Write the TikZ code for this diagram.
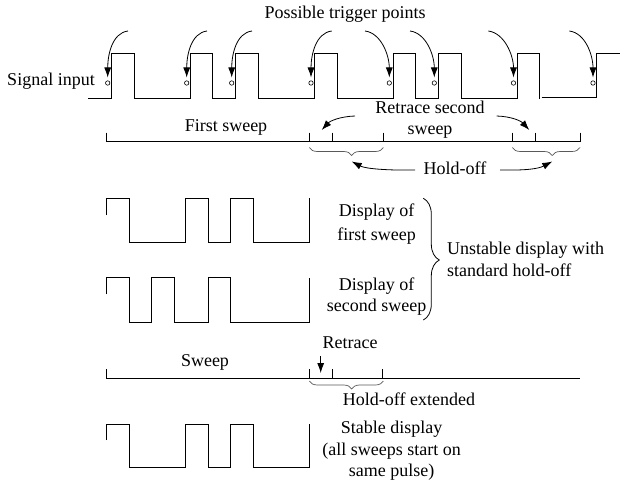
\documentclass[tikz,border=0pt]{standalone}
\usepackage{fontspec}
\setmainfont{Liberation Serif}
\usetikzlibrary{arrows.meta,decorations.pathreplacing}
\begin{document}
\begin{tikzpicture}[x=1pt,y=-1pt,
  lbl/.style={anchor=base,inner sep=0pt,font=\fontsize{18}{22}\selectfont},
  wave/.style={line width=0.9pt,line join=miter},
  axis/.style={line width=0.8pt},
  trig/.style={circle,draw,fill=white,inner sep=0pt,minimum size=4.4pt,line width=0.6pt},
  tarrow/.style={line width=0.8pt,-{Latex[length=10pt,width=7pt]},shorten >=3pt},
  carrow/.style={line width=0.8pt,-{Latex[length=10pt,width=7pt]}},
  hbrace/.style={draw=black!65,line width=0.7pt,decorate},
]
\useasboundingbox (0,0) rectangle (632,492);

% ---------- texts ----------
\node[lbl] (title) at (345,18.3) {Possible trigger points};
\node[lbl] (sig) at (51,86) {Signal input};
\node[lbl] (first) at (226,131.7) {First sweep};
\node[lbl] (ret1) at (430,113.3) {Retrace second};
\node[lbl] (ret2) at (430,135) {sweep};
\node[lbl] (hold) at (455,175) {Hold-off};
\node[lbl] (d1a) at (376.7,216) {Display of};
\node[lbl] (d1b) at (376.7,240) {first sweep};
\node[lbl] (d2a) at (376.7,290) {Display of};
\node[lbl] (d2b) at (376.7,311) {second sweep};
\node[lbl,anchor=base west] (un1) at (447,254) {Unstable display with};
\node[lbl,anchor=base west] (un2) at (447,276) {standard hold-off};
\node[lbl] (sweep) at (205,366.7) {Sweep};
\node[lbl] (retr) at (350,348.3) {Retrace};
\node[lbl] (holdx) at (409,405) {Hold-off extended};
\node[lbl] (st1) at (391.7,433.3) {Stable display};
\node[lbl] (st2) at (391.7,455) {(all sweeps start on};
\node[lbl] (st3) at (391.7,476.7) {same pulse)};

% ---------- signal input ----------
\draw[wave] (88,98.3) -- (111.7,98.3) -- (111.7,53.3) -- (134.3,53.3) -- (134.3,98.3)
  -- (190.7,98.3) -- (190.7,53.3) -- (212.3,53.3) -- (212.3,98.3)
  -- (235.7,98.3) -- (235.7,53.3) -- (258.3,53.3) -- (258.3,98.3)
  -- (314.3,98.3) -- (314.3,53.3) -- (337.3,53.3) -- (337.3,98.3)
  -- (393.3,98.3) -- (393.3,53.3) -- (415.7,53.3) -- (415.7,98.3)
  -- (438.3,98.3) -- (438.3,53.3) -- (461.7,53.3) -- (461.7,98.3)
  -- (517.3,98.3) -- (517.3,53.3) -- (539.3,53.3) -- (539.3,99.3);
\draw[wave] (541.7,97.5) -- (596.7,97.5) -- (596.7,53.3) -- (620,53.3);

% trigger points
\node[trig] (t1) at (107.7,83) {};
\node[trig] (t2) at (186.7,83) {};
\node[trig] (t3) at (231.7,83) {};
\node[trig] (t4) at (311,83) {};
\node[trig] (t5) at (389.3,83) {};
\node[trig] (t6) at (434.3,83) {};
\node[trig] (t7) at (513.5,83) {};
\node[trig] (t8) at (593,83) {};
\coordinate (s1) at (128,31);
\coordinate (s2) at (207,31);
\coordinate (s3) at (252,31);
\coordinate (s4) at (331.7,31);
\coordinate (s5) at (365,31);
\coordinate (s6) at (410,31);
\coordinate (s7) at (488.3,31);
\coordinate (s8) at (569.3,31);
\draw[tarrow] (s1) .. controls (112,33) and (107.7,55) .. (t1.north);
\draw[tarrow] (s2) .. controls (191,33) and (186.7,55) .. (t2.north);
\draw[tarrow] (s3) .. controls (236,33) and (231.7,55) .. (t3.north);
\draw[tarrow] (s4) .. controls (315.7,33) and (311,55) .. (t4.north);
\draw[tarrow] (s5) .. controls (381,33) and (389.3,55) .. (t5.north);
\draw[tarrow] (s6) .. controls (426,33) and (434.3,55) .. (t6.north);
\draw[tarrow] (s7) .. controls (504.3,33) and (513.5,55) .. (t7.north);
\draw[tarrow] (s8) .. controls (585.3,33) and (593,55) .. (t8.north);

% ---------- first sweep time line ----------
\draw[axis] (106.7,141.7) -- (580,141.7);
\foreach \x in {106.7,309.3,332.3,383.3,512.3,535.7,580}
  \draw[axis] (\x,132.7) -- (\x,141.7);
\draw[hbrace,decoration={brace,mirror,amplitude=8pt,aspect=0.573}] (309.3,147.5) -- (383.3,147.5);
\draw[hbrace,decoration={brace,mirror,amplitude=8pt,aspect=0.59}] (512.3,147.5) -- (580,147.5);

% retrace arrows
\coordinate (ra) at (355,116);
\coordinate (rae) at (321.7,130);
\coordinate (rb) at (496.7,116);
\coordinate (rbe) at (529.3,130);
\draw[carrow] (ra) .. controls (340,116.5) and (330,121) .. (rae);
\draw[carrow] (rb) .. controls (511.7,116.5) and (521,121) .. (rbe);

% hold-off arrows
\coordinate (ha) at (415,170);
\coordinate (hae) at (351.7,161.5);
\coordinate (hb) at (500,170);
\coordinate (hbe) at (552.3,161.5);
\draw[carrow] (ha) .. controls (390,170.5) and (366,169) .. (hae);
\draw[carrow] (hb) .. controls (525,170.5) and (538,169) .. (hbe);

% ---------- display of first sweep ----------
\draw[wave] (106,215) -- (106,198.3) -- (129.3,198.3) -- (129.3,242.7) -- (185.7,242.7)
  -- (185.7,198.3) -- (208.3,198.3) -- (208.3,242.7) -- (230.3,242.7) -- (230.3,198.3)
  -- (253.3,198.3) -- (253.3,242.7) -- (309.3,242.7) -- (309.3,198.3);

% ---------- display of second sweep ----------
\draw[wave] (106,294.3) -- (106,277.7) -- (129.3,277.7) -- (129.3,322.3) -- (151.7,322.3)
  -- (151.7,277.7) -- (174.3,277.7) -- (174.3,322.3) -- (208.3,322.3) -- (208.3,277.7)
  -- (230.3,277.7) -- (230.3,322.3) -- (309.3,322.3) -- (309.3,277.7);

% right brace
\draw[line width=0.8pt,decorate,decoration={brace,amplitude=16pt,aspect=0.507}] (423.3,198.3) -- (423.3,320);

% ---------- extended hold-off sweep line ----------
\draw[axis] (106,378.3) -- (580,378.3);
\foreach \x in {106,309.3,332.3,382.7}
  \draw[axis] (\x,369.3) -- (\x,378.3);
\draw[hbrace,decoration={brace,mirror,amplitude=8pt,aspect=0.573}] (309.3,381) -- (383.3,381);
\coordinate (rd) at (320.7,356);
\coordinate (rde) at (320.7,373);
\draw[carrow] (rd) -- (rde);

% ---------- stable display ----------
\draw[wave] (106,440) -- (106,424.3) -- (129.3,424.3) -- (129.3,467.7) -- (185.7,467.7)
  -- (185.7,424.3) -- (208.3,424.3) -- (208.3,467.7) -- (230.3,467.7) -- (230.3,424.3)
  -- (253.3,424.3) -- (253.3,467.7) -- (309.3,467.7) -- (309.3,424.3);
\end{tikzpicture}
\end{document}
